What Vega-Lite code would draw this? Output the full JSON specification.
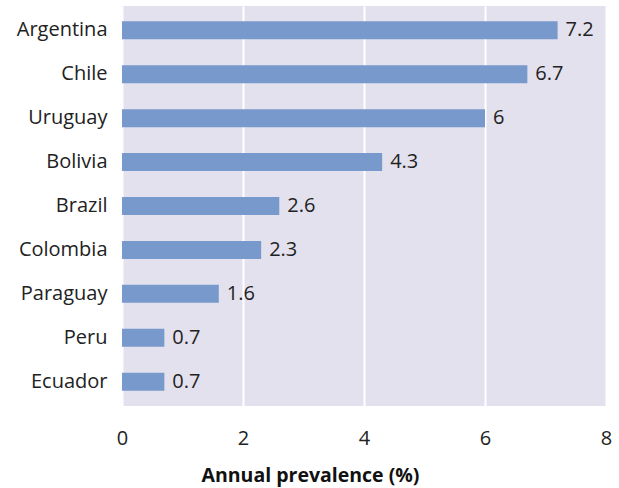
{
  "$schema": "https://vega.github.io/schema/vega-lite/v6.json",
  "width": 484,
  "height": 400,
  "autosize": {"type": "none"},
  "padding": {"left": 122, "top": 6, "right": 13, "bottom": 82},
  "background": "white",
  "config": {
    "view": {"fill": "#e3e1ed", "stroke": null},
    "font": "Open Sans"
  },
  "data": {
    "values": [
      {"country": "Argentina", "value": 7.2},
      {"country": "Chile", "value": 6.7},
      {"country": "Uruguay", "value": 6},
      {"country": "Bolivia", "value": 4.3},
      {"country": "Brazil", "value": 2.6},
      {"country": "Colombia", "value": 2.3},
      {"country": "Paraguay", "value": 1.6},
      {"country": "Peru", "value": 0.7},
      {"country": "Ecuador", "value": 0.7}
    ]
  },
  "encoding": {
    "y": {
      "field": "country",
      "type": "nominal",
      "sort": null,
      "scale": {"paddingInner": 0.59, "paddingOuter": 0.35},
      "axis": {
        "title": null,
        "domain": false,
        "ticks": false,
        "labelFontSize": 20,
        "labelColor": "#222",
        "labelPadding": 15,
        "labelFont": "Open Sans",
        "labelLimit": 200
      }
    },
    "x": {
      "field": "value",
      "type": "quantitative",
      "scale": {"domain": [0, 8], "nice": false},
      "axis": {
        "values": [0, 2, 4, 6, 8],
        "title": "Annual prevalence (%)",
        "titleFontSize": 19.5,
        "titleFontWeight": "bold",
        "titleColor": "#111",
        "titlePadding": 18,
        "titleX": 188,
        "titleAlign": "center",
        "domain": false,
        "ticks": false,
        "grid": true,
        "gridColor": "white",
        "gridWidth": 2,
        "labelFontSize": 20,
        "labelColor": "#222",
        "labelPadding": 22,
        "labelFlush": false
      }
    }
  },
  "layer": [
    {"mark": {"type": "bar", "color": "#7799cc"}},
    {
      "mark": {"type": "text", "align": "left", "dx": 8, "fontSize": 20, "color": "#222"},
      "encoding": {"text": {"field": "value", "type": "quantitative"}}
    }
  ]
}
